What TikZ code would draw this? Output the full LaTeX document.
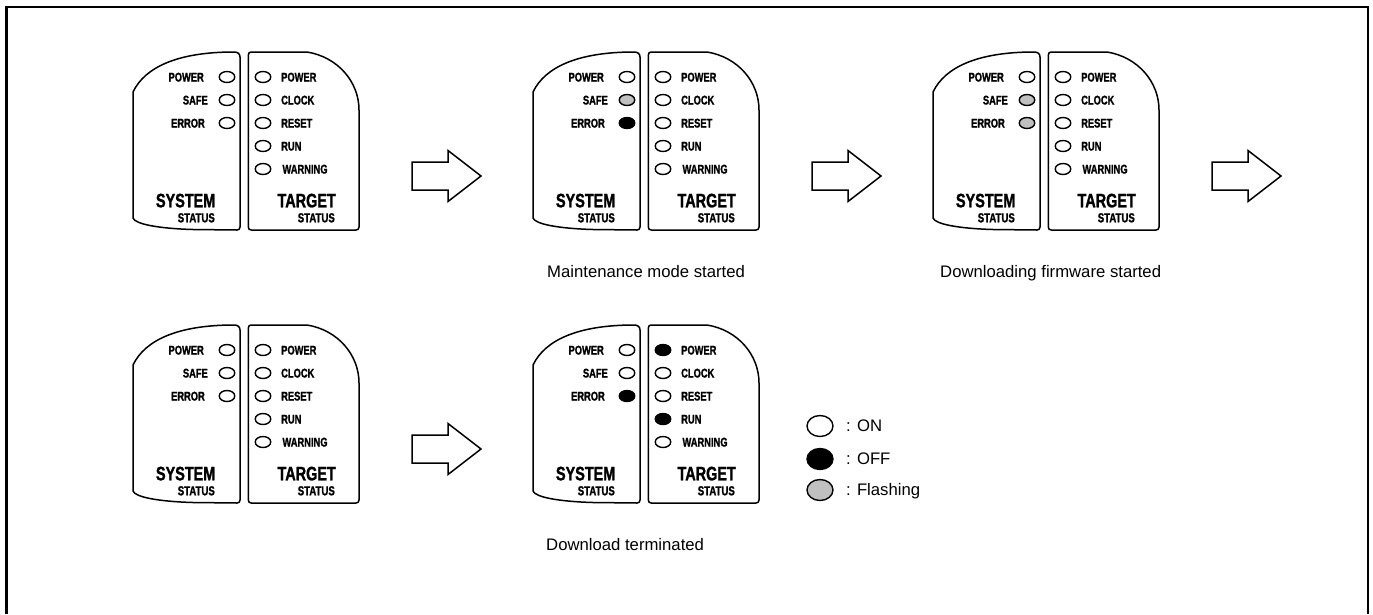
\documentclass[tikz,border=0pt]{standalone}
\usepackage{fontspec}
\setmainfont{Liberation Sans}
\newfontfamily\condfont{Liberation Sans Bold}[FakeStretch=0.74,FakeBold=1.3]
\usetikzlibrary{shapes.geometric}
\definecolor{flash}{RGB}{192,192,192}
\tikzset{
 panelline/.style={draw=black, line width=1.5pt, line join=round, fill=white},
 led/.style={ellipse, draw=black, line width=1.4pt, minimum width=15.5pt, minimum height=11pt, inner sep=0pt},
 ledlbl/.style={font=\condfont\fontsize{12.6}{14}\selectfont, inner sep=0pt},
 bigttl/.style={font=\condfont\fontsize{19.5}{20}\selectfont, inner sep=0pt, anchor=base east},
 smallttl/.style={font=\condfont\fontsize{13}{14}\selectfont, inner sep=0pt, anchor=base east},
 capt/.style={font=\fontsize{16.7}{18}\selectfont, inner sep=0pt, anchor=base west},
 bigarrow/.style={draw=black, line width=1.5pt, line join=miter, fill=white},
 frameline/.style={draw=black, line width=2.6pt},
 legendled/.style={ellipse, draw=black, line width=1.4pt, minimum width=26pt, minimum height=21pt, inner sep=0pt},
}
% #1 name, #2 left x, #3 top y, #4 system LED colours, #5 target LED colours
\newcommand\ledpanel[5]{%
\begin{scope}[shift={(#2,#3)}]
 \draw[panelline] (0,166) -- (0,40) .. controls (12,15) and (45,0) .. (101,0)
   .. controls (104.5,0) and (107,1.5) .. (107,5) -- (107,175)
   .. controls (107,177) and (106,178) .. (104,178) -- (60,177.5)
   .. controls (25,176.5) and (2,172) .. (0,166) -- cycle;
 \draw[panelline] (118.3,0) -- (174,0) .. controls (205,5) and (226,30) .. (226,58)
   -- (226,175) .. controls (226,177) and (225,178) .. (223,178) -- (118.3,178)
   .. controls (116.3,178) and (115.3,177) .. (115.3,175) -- (115.3,3)
   .. controls (115.3,1) and (116.3,0) .. (118.3,0) -- cycle;
 \foreach \c [count=\i] in {#4} {\node[led, fill=\c] (#1-s\i) at (94,{2+23*\i}) {};}
 \foreach \c [count=\i] in {#5} {\node[led, fill=\c] (#1-t\i) at (130,{2+23*\i}) {};}
 \node[ledlbl, anchor=base east] (#1-sa) at (71,29.5) {POWER};
 \node[ledlbl, anchor=base east] (#1-sb) at (75,52.5) {SAFE};
 \node[ledlbl, anchor=base east] (#1-sc) at (72,75.5) {ERROR};
 \node[ledlbl, anchor=base west] (#1-ta) at (148,29.5) {POWER};
 \node[ledlbl, anchor=base west] (#1-tb) at (148,52.5) {CLOCK};
 \node[ledlbl, anchor=base west] (#1-tc) at (148,75.5) {RESET};
 \node[ledlbl, anchor=base west] (#1-td) at (148,98.5) {RUN};
 \node[ledlbl, anchor=base west] (#1-te) at (149.3,121.5) {WARNING};
 \node[bigttl] (#1-sys) at (82.5,155.3) {SYSTEM};
 \node[smallttl] (#1-sst) at (82,170.3) {STATUS};
 \node[bigttl] (#1-tgt) at (203,155.3) {TARGET};
 \node[smallttl] (#1-tst) at (202,170.3) {STATUS};
\end{scope}}
% #1 left x, #2 tip y
\newcommand\bigarrowat[2]{%
 \draw[bigarrow] (#1,#2-14) -- (#1+36,#2-14) -- (#1+36,#2-25.5) -- (#1+69,#2)
   -- (#1+36,#2+25.5) -- (#1+36,#2+14) -- (#1,#2+14) -- cycle;}

\begin{document}
\begin{tikzpicture}[x=1pt,y=-1pt]
\useasboundingbox (0,0) rectangle (1373,614);
\draw[frameline] (6.5,614) -- (6.5,6.8) -- (1368,6.8) -- (1368,614);

\ledpanel{pa}{133}{52}{white,white,white}{white,white,white,white,white}
\ledpanel{pb}{533}{52}{white,flash,black}{white,white,white,white,white}
\ledpanel{pc}{933}{52}{white,flash,flash}{white,white,white,white,white}
\ledpanel{pd}{133}{325}{white,white,white}{white,white,white,white,white}
\ledpanel{pe}{533}{325}{white,white,black}{black,white,white,black,white}

\bigarrowat{412}{176}
\bigarrowat{812}{176}
\bigarrowat{1212}{176}
\bigarrowat{412}{449}

\node[capt] (cb) at (547,277) {Maintenance mode started};
\node[capt] (cc) at (940,277) {Downloading firmware started};
\node[capt] (ce) at (546,550) {Download terminated};

\node[legendled, fill=white] (lgon) at (820,426) {};
\node[legendled, fill=black] (lgoff) at (820,459) {};
\node[legendled, fill=flash] (lgfl) at (820,490) {};
\node[capt] (tlon) at (846,431) {: ON};
\node[capt] (tloff) at (846,464) {: OFF};
\node[capt] (tlfl) at (846,495) {: Flashing};
\end{tikzpicture}
\end{document}
